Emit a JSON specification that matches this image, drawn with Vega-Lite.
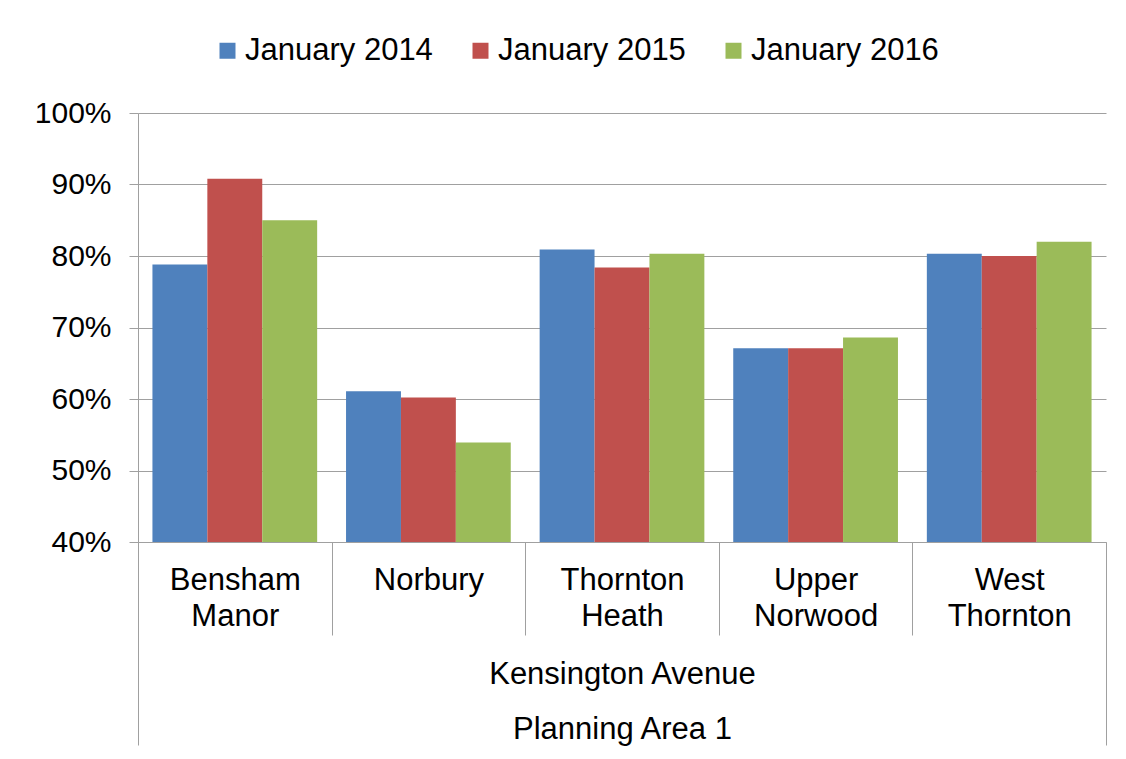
{
  "$schema": "https://vega.github.io/schema/vega-lite/v6.json",
  "width": 968,
  "height": 429,
  "autosize": {"type": "none"},
  "padding": {"left": 138, "top": 113, "right": 20, "bottom": 217},
  "background": "white",
  "config": {
    "font": "Liberation Sans",
    "view": {"stroke": null}
  },
  "data": {
    "values": [
      {"district": "Bensham Manor", "period": "January 2014", "value": 0.788},
      {"district": "Bensham Manor", "period": "January 2015", "value": 0.908},
      {"district": "Bensham Manor", "period": "January 2016", "value": 0.850},
      {"district": "Norbury", "period": "January 2014", "value": 0.611},
      {"district": "Norbury", "period": "January 2015", "value": 0.602},
      {"district": "Norbury", "period": "January 2016", "value": 0.539},
      {"district": "Thornton Heath", "period": "January 2014", "value": 0.809},
      {"district": "Thornton Heath", "period": "January 2015", "value": 0.784},
      {"district": "Thornton Heath", "period": "January 2016", "value": 0.803},
      {"district": "Upper Norwood", "period": "January 2014", "value": 0.671},
      {"district": "Upper Norwood", "period": "January 2015", "value": 0.671},
      {"district": "Upper Norwood", "period": "January 2016", "value": 0.686},
      {"district": "West Thornton", "period": "January 2014", "value": 0.803},
      {"district": "West Thornton", "period": "January 2015", "value": 0.800},
      {"district": "West Thornton", "period": "January 2016", "value": 0.820}
    ]
  },
  "mark": {"type": "bar", "clip": true},
  "encoding": {
    "x": {
      "field": "district",
      "type": "nominal",
      "sort": null,
      "scale": {"paddingInner": 0, "paddingOuter": 0},
      "axis": {
        "title": ["Kensington Avenue", "Planning Area 1"],
        "titleFontSize": 31,
        "titleFontWeight": "normal",
        "titleColor": "black",
        "titleLineHeight": 55,
        "titleBaseline": "alphabetic",
        "titleY": 141,
        "labelExpr": "split(datum.label, ' ')",
        "labelFontSize": 31,
        "labelColor": "black",
        "labelLineHeight": 36,
        "labelBaseline": "top",
        "labelAngle": 0,
        "labelPadding": -70,
        "labelLimit": 0,
        "tickBand": "extent",
        "tickSize": 93,
        "tickColor": "#a0a0a0",
        "domainColor": "#a0a0a0",
        "encoding": {
          "ticks": {
            "y2": {
              "condition": {"test": "datum.extra || datum.index < 0 || datum.value === 'West Thornton'", "value": 203},
              "value": 93
            }
          }
        }
      }
    },
    "xOffset": {
      "field": "period",
      "type": "nominal",
      "sort": null,
      "scale": {"paddingInner": 0, "paddingOuter": 0.263}
    },
    "y": {
      "field": "value",
      "type": "quantitative",
      "scale": {"domain": [0.4, 1], "nice": false, "zero": false},
      "axis": {
        "title": null,
        "format": ".0%",
        "values": [0.4, 0.5, 0.6, 0.7, 0.8, 0.9, 1.0],
        "labelFontSize": 30,
        "labelColor": "black",
        "labelPadding": 18,
        "tickSize": 9,
        "tickColor": "#a0a0a0",
        "domainColor": "#a0a0a0",
        "gridColor": "#a0a0a0",
        "grid": true
      }
    },
    "color": {
      "field": "period",
      "type": "nominal",
      "scale": {
        "domain": ["January 2014", "January 2015", "January 2016"],
        "range": ["#4F81BD", "#C0504D", "#9BBB59"]
      },
      "legend": {
        "title": null,
        "orient": "none",
        "legendX": 74,
        "legendY": -78,
        "direction": "horizontal",
        "symbolType": "square",
        "symbolSize": 256,
        "symbolStrokeWidth": 0,
        "labelFontSize": 31,
        "labelColor": "black",
        "labelOffset": 2,
        "labelLimit": 0,
        "columnPadding": 32
      }
    }
  }
}
